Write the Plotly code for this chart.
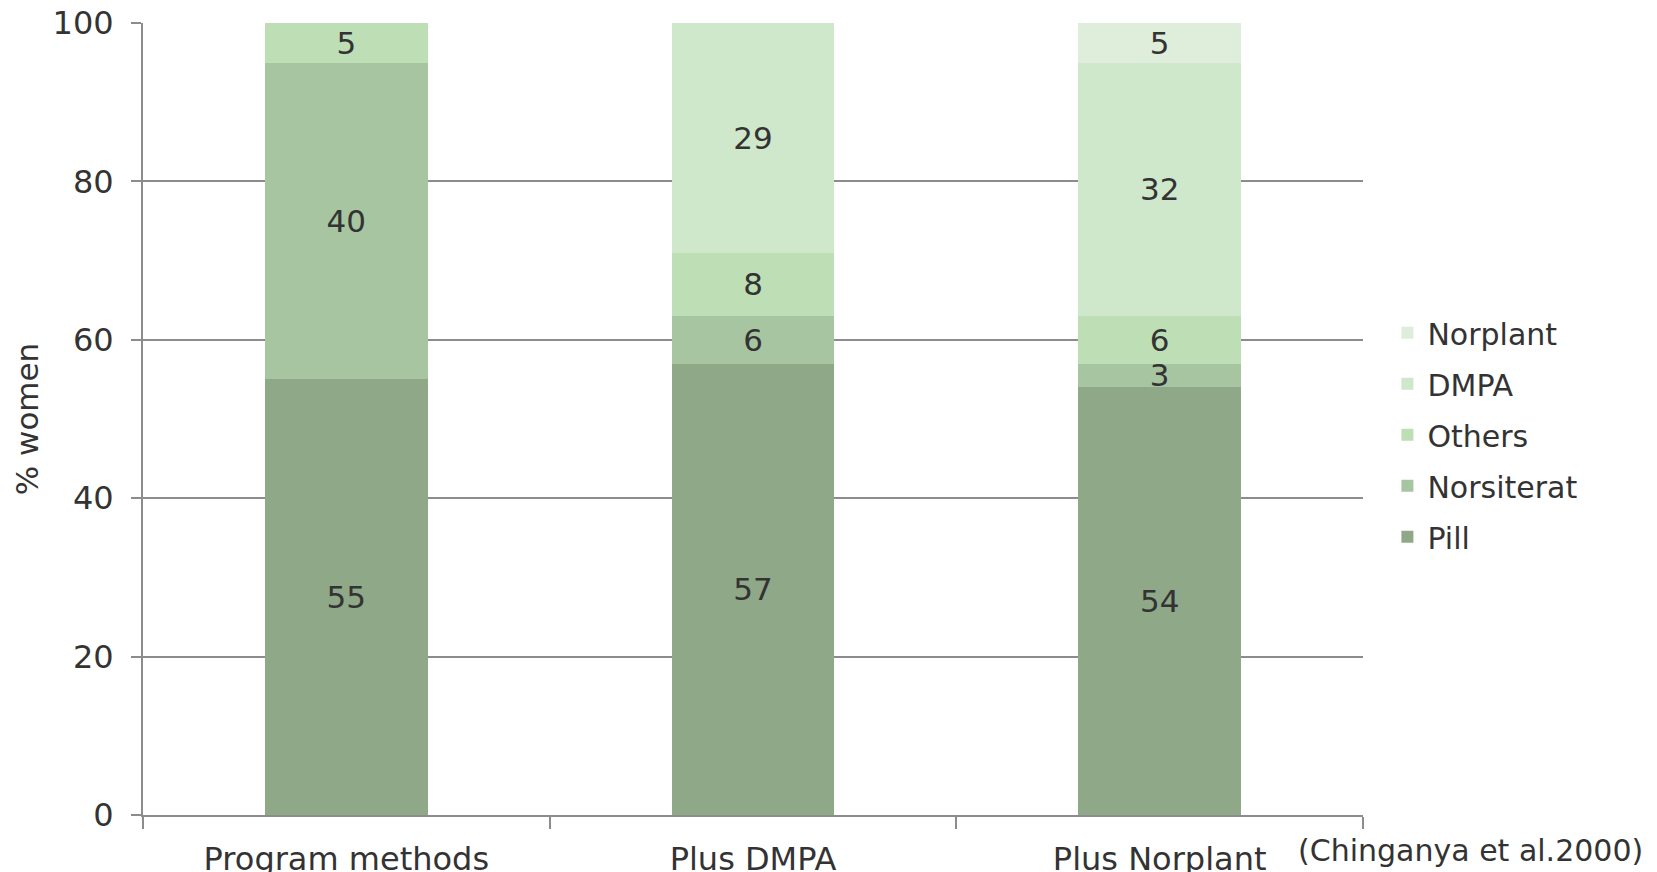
import plotly.graph_objects as go

categories = ["Program methods", "Plus DMPA", "Plus Norplant"]
pill = [55, 57, 54]
norsiterat = [40, 6, 3]
others = [5, 8, 6]
dmpa = [None, 29, 32]
norplant = [None, None, 5]

series = [
    ("Pill", pill, "#8FA888"),
    ("Norsiterat", norsiterat, "#A7C5A0"),
    ("Others", others, "#BEDFB5"),
    ("DMPA", dmpa, "#CFE7CB"),
    ("Norplant", norplant, "#DFEDDB"),
]

FONT = "DejaVu Sans, Verdana, sans-serif"
TXT = "#333333"
GRID = "#8c8c8c"

fig = go.Figure()
n = len(series)
for i, (name, vals, col) in enumerate(series):
    fig.add_trace(go.Bar(
        name=name, x=categories, y=vals,
        marker=dict(color=col, line=dict(width=0)),
        text=["" if v is None else str(v) for v in vals],
        textposition="inside", insidetextanchor="middle", textangle=0,
        textfont=dict(family=FONT, size=31, color=TXT),
        legendgroup=name, legendrank=n - i,
    ))

fig.update_layout(
    barmode="stack", bargap=0.6,
    width=1657, height=872,
    margin=dict(l=143, r=294, t=23, b=57, autoexpand=False),
    paper_bgcolor="white", plot_bgcolor="white",
    font=dict(family=FONT, size=31, color=TXT),
    uniformtext=dict(mode="show", minsize=31),
    legend=dict(
        traceorder="grouped", tracegroupgap=9,
        x=1.02, xanchor="left", y=0.48, yanchor="middle",
        font=dict(family=FONT, size=30, color=TXT),
        bgcolor="rgba(0,0,0,0)",
    ),
    annotations=[dict(
        text="(Chinganya et al.2000)", xref="paper", yref="paper",
        x=1.0885, y=-0.0442, xanchor="center", yanchor="middle",
        showarrow=False, font=dict(family=FONT, size=30, color=TXT),
    )],
)

fig.update_xaxes(
    showline=True, linecolor=GRID, linewidth=2,
    ticks="outside", tickson="boundaries", ticklen=12, tickwidth=1.5, tickcolor=GRID,
    ticklabelstandoff=15,
    tickfont=dict(family=FONT, size=32, color=TXT),
    showgrid=False,
)
fig.update_yaxes(
    range=[0, 100], tickvals=[0, 20, 40, 60, 80, 100],
    showline=True, linecolor=GRID, linewidth=2,
    showgrid=True, gridcolor=GRID, gridwidth=2,
    ticks="outside", ticklen=10, tickwidth=2, tickcolor=GRID,
    ticklabelstandoff=11,
    tickfont=dict(family=FONT, size=32, color=TXT),
    title=dict(text="% women", font=dict(family=FONT, size=31, color=TXT), standoff=5),
    zeroline=False,
)

fig.write_html("out.html")
